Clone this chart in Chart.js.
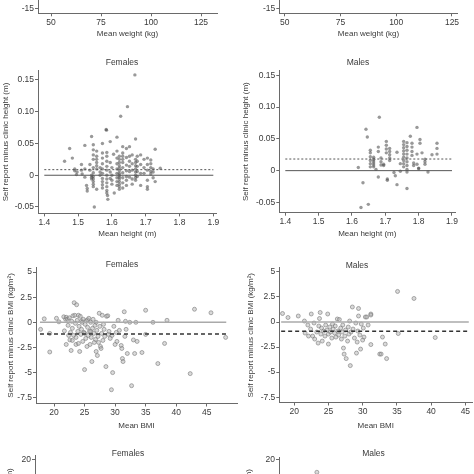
<!DOCTYPE html>
<html><head><meta charset="utf-8">
<script src="https://cdn.jsdelivr.net/npm/chart.js@4.4.1/dist/chart.umd.min.js"></script>
<style>
html,body{margin:0;padding:0;width:474px;height:474px;overflow:hidden;background:#fff}
canvas{position:absolute}
</style></head><body>
<canvas id="wF"></canvas><canvas id="wM"></canvas>
<canvas id="hF"></canvas><canvas id="hM"></canvas>
<canvas id="bF"></canvas><canvas id="bM"></canvas>
<canvas id="cF"></canvas><canvas id="cM"></canvas>
<script>
// ---------- tick labels ----------
const weightXTicks = [50, 75, 100, 125];
const weightYTicks = [-15, -10, -5, 0, 5, 10, 15, 20];
const heightXTicks = [1.4, 1.5, 1.6, 1.7, 1.8, 1.9];
const heightXLabels = ['1.4', '1.5', '1.6', '1.7', '1.8', '1.9'];
const heightYTicks = [-0.05, 0, 0.05, 0.10, 0.15];
const heightYLabels = ['-0.05', '0', '0.05', '0.10', '0.15'];
const bmiXTicks = [20, 25, 30, 35, 40, 45];
const bmiYTicks = [-7.5, -5, -2.5, 0, 2.5, 5];
const bmiYLabels = ['-7.5', '-5', '-2.5', '0', '2.5', '5'];
const waistXTicks = [60, 80, 100, 120, 140];
const waistYTicks = [-20, -10, 0, 10, 20];

// ---------- mean differences (dashed lines) and line extents ----------
const heightMeanDiffF = 0.0088, heightMeanDiffM = 0.0183;
const bmiMeanDiffF = -1.15, bmiMeanDiffM = -0.92;
const heightLineX = [1.4, 1.9];
const bmiLineXF = [17.7, 48.2];
const bmiLineXM = [18.1, 45.5];

// ---------- data: [mean, self report minus clinic] ----------
const heightFemales = [
[1.46,0.022],[1.475,0.042],[1.483,0.027],[1.49,0.010],[1.49,0.007],[1.495,0.001],[1.497,0.005],
[1.51,0.017],[1.51,0.008],[1.512,0.002],[1.52,0.047],[1.52,0.010],[1.52,-0.003],
[1.525,-0.016],[1.527,-0.021],[1.527,-0.025],[1.535,0.017],[1.535,0.008],
[1.54,0.061],[1.54,0.000],[1.54,-0.003],[1.54,-0.006],
[1.545,0.048],[1.545,0.040],[1.545,0.032],[1.545,0.025],[1.545,0.012],[1.545,0.004],[1.545,-0.002],[1.545,-0.006],[1.545,-0.010],[1.545,-0.014],[1.545,-0.018],
[1.548,-0.050],
[1.555,0.038],[1.555,0.030],[1.555,0.025],[1.555,0.020],[1.555,0.015],[1.555,0.010],[1.555,-0.022],
[1.565,0.012],[1.565,0.005],[1.565,0.000],
[1.572,0.050],[1.572,0.035],[1.572,0.027],[1.572,0.018],[1.572,0.010],[1.572,0.003],[1.572,-0.005],[1.572,-0.010],[1.572,-0.015],[1.572,-0.020],
[1.583,0.072],[1.584,0.071],
[1.585,0.036],[1.585,0.030],[1.585,0.022],[1.585,0.014],[1.585,0.008],[1.585,0.000],[1.585,-0.006],[1.585,-0.012],[1.585,-0.018],[1.585,-0.024],[1.585,-0.028],[1.587,-0.032],[1.588,-0.038],
[1.595,0.053],[1.595,0.020],[1.595,0.005],[1.595,-0.005],
[1.60,0.012],[1.60,0.000],[1.60,-0.008],[1.60,-0.014],
[1.605,0.033],[1.607,-0.028],
[1.615,0.060],[1.615,0.038],[1.615,0.027],[1.615,0.018],[1.615,0.010],[1.615,0.003],[1.615,-0.004],[1.615,-0.010],[1.615,-0.016],
[1.622,0.030],[1.622,0.025],[1.622,0.020],[1.622,0.015],[1.622,0.011],[1.622,0.007],[1.622,0.003],[1.622,0.000],[1.622,-0.003],[1.622,-0.006],[1.622,-0.010],[1.622,-0.014],[1.622,-0.018],[1.622,-0.022],
[1.626,0.093],
[1.632,0.045],[1.632,0.035],[1.632,0.030],[1.632,0.025],[1.632,0.020],[1.632,0.012],[1.632,0.004],[1.632,-0.004],[1.632,-0.012],[1.632,-0.020],
[1.646,0.108],
[1.643,0.042],[1.643,0.028],[1.643,0.016],[1.643,0.007],[1.643,-0.002],[1.643,-0.008],[1.643,-0.016],
[1.652,0.045],[1.652,0.030],[1.652,0.022],[1.652,0.014],[1.652,0.006],[1.652,-0.003],
[1.66,0.032],[1.66,0.018],[1.66,0.008],[1.66,-0.006],[1.66,-0.014],
[1.668,0.158],
[1.67,0.057],[1.67,0.025],[1.67,0.020],[1.67,0.015],[1.67,0.010],[1.67,0.005],[1.67,0.000],[1.67,-0.004],[1.67,-0.008],
[1.675,0.030],[1.675,0.022],[1.675,0.014],[1.675,0.006],[1.675,-0.002],
[1.685,0.032],[1.685,0.017],[1.685,0.003],[1.685,-0.016],
[1.695,0.025],[1.695,0.012],[1.695,0.003],
[1.705,0.027],[1.705,0.017],[1.705,0.008],[1.705,-0.008],[1.705,-0.018],[1.705,-0.022],
[1.715,0.024],[1.715,0.018],[1.715,0.012],[1.715,0.006],[1.715,0.002],
[1.722,0.010],[1.722,0.005],[1.722,-0.004],
[1.728,0.041],[1.728,-0.010],
[1.743,0.011]
];
const heightMales = [
[1.619,0.005],[1.627,-0.058],[1.633,-0.019],[1.642,0.065],[1.646,0.053],[1.649,-0.053],
[1.655,0.032],[1.655,0.028],[1.655,0.022],[1.655,0.016],[1.655,0.011],[1.655,0.006],
[1.665,0.021],[1.665,0.018],[1.665,0.015],[1.665,0.012],[1.665,0.009],[1.665,0.006],
[1.672,0.002],[1.679,0.037],[1.679,0.030],[1.679,-0.010],[1.682,0.084],
[1.687,0.020],[1.687,0.014],[1.687,0.009],[1.695,0.010],[1.695,0.008],
[1.703,0.046],[1.703,0.040],[1.703,0.034],[1.703,0.028],[1.706,-0.013],[1.706,-0.015],
[1.713,0.035],[1.713,0.030],[1.713,0.025],[1.713,0.020],[1.713,0.016],
[1.726,-0.003],[1.73,-0.008],[1.735,0.029],[1.735,-0.022],[1.745,0.011],[1.745,-0.001],
[1.755,0.046],[1.755,0.041],[1.755,0.036],[1.755,0.031],[1.755,0.026],[1.755,0.021],[1.755,0.016],[1.755,0.011],[1.755,0.006],
[1.765,0.044],[1.765,0.038],[1.765,0.032],[1.765,0.026],[1.765,0.020],[1.765,0.014],[1.765,0.008],[1.765,0.002],[1.765,-0.002],[1.765,-0.028],
[1.775,0.054],[1.78,0.043],[1.78,0.037],[1.78,0.030],[1.78,0.024],[1.785,0.012],[1.785,0.008],
[1.795,0.068],[1.795,0.026],[1.795,0.010],[1.80,0.004],[1.80,0.003],[1.804,0.049],[1.804,0.043],
[1.81,0.028],[1.819,0.018],[1.819,0.014],[1.819,0.010],[1.828,-0.002],[1.84,0.025],
[1.855,0.043],[1.855,0.035],[1.855,0.026]
];
const bmiFemales = [
[17.8,-0.7],[18.4,0.35],[19.3,-1.1],[19.3,-2.95],[20.4,0.4],[20.8,0.05],[21.6,0.55],[21.7,-0.85],[21.9,0.3],
[22.0,-2.2],[22.0,0.5],[22.2,0.3],[22.3,-0.3],[22.4,-1.3],[22.5,0.45],[22.6,-1.75],[22.7,-1.0],[22.8,-2.8],[22.9,0.1],
[23.0,-0.6],[23.0,-1.8],[23.1,0.65],[23.2,-1.3],[23.3,1.95],[23.4,0.7],[23.5,-0.1],[23.6,-1.5],[23.6,-2.2],[23.7,1.75],
[23.8,0.2],[23.9,-0.9],[24.0,-2.1],[24.0,0.7],[24.1,-0.4],[24.2,-2.9],[24.3,0.6],[24.4,-1.2],[24.5,-0.7],[24.5,0.15],
[24.6,0.0],[24.7,-1.9],[24.8,0.3],[24.9,-1.0],[25.0,-4.7],[25.0,-1.1],[25.1,-0.2],[25.2,-1.6],[25.3,0.15],[25.4,-2.4],
[25.5,-0.5],[25.5,0.25],[25.6,-1.3],[25.7,0.4],[25.8,-0.9],[25.9,-2.2],[26.0,0.0],[26.0,-0.9],[26.1,-1.5],[26.2,-3.9],
[26.3,-0.6],[26.4,0.3],[26.5,-1.1],[26.6,-2.0],[26.7,-0.3],[26.8,-1.7],[26.9,-2.9],[26.9,0.0],[27.0,-0.8],[27.1,-3.3],
[27.2,-1.4],[27.3,-2.0],[27.4,0.9],[27.5,-0.4],[27.6,-2.4],[27.7,-2.6],[27.8,-1.1],[27.9,0.7],[28.0,-1.8],[28.1,-0.2],
[28.2,-0.7],[28.3,-1.4],[28.5,-4.4],[28.6,0.6],[28.8,0.65],[28.9,-1.2],[29.0,-0.9],[29.2,-1.6],[29.4,-6.7],[29.5,-1.3],
[29.6,-5.0],[29.8,-0.4],[30.0,-2.2],[30.2,-1.0],[30.3,-1.9],[30.5,0.2],[30.7,-0.8],[31.0,-2.3],[31.1,-2.6],[31.2,-3.6],
[31.3,-3.9],[31.5,1.05],[31.6,-1.4],[31.7,0.1],[31.8,-0.7],[32.0,-3.1],[32.4,0.0],[32.7,-6.3],[33.0,-1.75],[33.2,-3.1],
[33.4,0.0],[33.6,-1.9],[34.4,-3.0],[35.0,1.2],[35.0,-1.2],[36.2,0.0],[37.0,-4.1],[38.1,-2.1],[38.5,0.2],[42.3,-5.1],
[43.0,1.3],[45.7,0.95],[48.1,-1.5]
];
const bmiMales = [
[18.3,0.85],[19.1,0.45],[20.6,0.6],[21.5,0.1],[21.6,-1.1],[22.0,-0.3],[22.1,-1.4],[22.4,-0.7],[22.5,0.8],[22.7,-1.4],
[22.9,-0.1],[23.0,-1.7],[23.3,-1.0],[23.5,-2.1],[23.6,-0.4],[23.7,0.35],[23.8,0.95],[23.9,-1.2],[24.0,-0.6],[24.1,-1.9],
[24.3,-0.9],[24.5,-1.4],[24.6,-0.3],[24.8,-0.8],[24.9,0.8],[25.0,-2.2],[25.0,-1.2],[25.2,-0.5],[25.3,-1.0],[25.5,-1.6],
[25.6,-0.2],[25.7,-0.7],[25.9,-1.1],[26.0,-0.4],[26.1,-1.5],[26.3,0.3],[26.4,-0.9],[26.5,-1.3],[26.6,0.25],[26.8,-0.6],
[26.9,-1.7],[27.0,-1.0],[27.1,-0.3],[27.2,-2.6],[27.3,-3.2],[27.4,-1.4],[27.5,-0.8],[27.6,-3.65],[27.8,-1.9],[27.9,-0.5],
[28.0,-1.2],[28.1,0.1],[28.2,-4.35],[28.3,-1.0],[28.5,1.5],[28.6,-0.7],[28.8,-1.6],[29.0,-0.1],[29.1,-3.1],[29.2,-2.0],
[29.3,-0.9],[29.4,1.35],[29.4,0.6],[29.6,-1.3],[29.7,-2.7],[29.8,-0.2],[30.0,-1.8],[30.1,-0.6],[30.2,-1.5],[30.4,0.5],
[30.6,0.5],[30.8,-0.3],[31.2,0.8],[31.2,0.7],[31.2,-2.25],[32.5,-3.2],[32.7,-3.2],[32.9,-1.5],[33.3,-2.2],[33.5,-3.65],
[35.1,3.05],[35.2,-1.15],[37.5,2.35],[40.6,-1.55]
];
const waistFemales = [];
const waistMales = [[74.2,16.2]];

// ---------- styling ----------
const FONT = "'Liberation Sans', Arial, Helvetica, sans-serif";
const TXT = '#3a3a3a', AX = '#6a6a6a';

function pts(a){ return a.map(p => ({x:p[0], y:p[1]})); }
function hline(xr, v, color, w, dash){
  return {data:[{x:xr[0],y:v},{x:xr[1],y:v}], showLine:true, pointRadius:0, borderColor:color, borderWidth:w, borderDash:dash, fill:false};
}
function heightPts(a){ return {data:pts(a), pointRadius:1.7, pointBackgroundColor:'rgba(70,70,70,0.55)', pointBorderWidth:0}; }
function bmiPts(a){ return {data:pts(a), pointRadius:2, pointBackgroundColor:'rgba(170,170,170,0.45)', pointBorderColor:'rgba(120,120,120,0.75)', pointBorderWidth:0.8}; }

function panel(id, g, xs, ys, datasets){
  const cv = document.getElementById(id);
  cv.width = g.cw; cv.height = g.ch;
  cv.style.left = g.cl + 'px'; cv.style.top = g.ct + 'px';
  const tf = {family:FONT, size:g.ts || 8.5};
  const hf = {family:FONT, size:8};
  const axisGrid = {display:true, drawOnChartArea:false, drawTicks:true, tickLength:3, color:AX, lineWidth:1};
  new Chart(cv, {
    type:'scatter',
    data:{datasets},
    options:{
      responsive:false, animation:false, events:[],
      layout:{padding:0},
      plugins:{legend:{display:false}, tooltip:{enabled:false},
        title: g.title ? {display:true, text:g.title, color:TXT, font:{family:FONT,size:8.5,weight:'normal'}, padding:{top:g.tpt, bottom:g.tpb}} : {display:false}},
      scales:{
        x:{type:'linear', position:'bottom', min:xs.min, max:xs.max,
          afterBuildTicks:s => { s.ticks = xs.ticks.map(v => ({value:v})); },
          afterFit:s => { s.height = g.xh; },
          grid:axisGrid, border:{display:true, color:AX, width:1},
          ticks:{color:TXT, font:tf, padding:1, maxRotation:0, autoSkip:false,
            callback:(v,i) => xs.labels ? xs.labels[i] : String(xs.ticks[i])},
          title:{display:true, text:xs.title, color:TXT, font:hf, padding:0}},
        y:{type:'linear', position:'left', min:ys.min, max:ys.max,
          afterBuildTicks:s => { s.ticks = ys.ticks.map(v => ({value:v})); },
          afterFit:s => { s.width = g.yw; },
          grid:axisGrid, border:{display:true, color:AX, width:1},
          ticks:{color:TXT, font:tf, padding:1, autoSkip:false,
            callback:(v,i) => ys.labels ? ys.labels[i] : String(ys.ticks[i])},
          title:{display:true, text:ys.title, color:TXT, font:hf, padding:{top:g.ytp, bottom:0}}},
        yr:{axis:'y', type:'linear', position:'right', display:true,
          grid:{display:false}, border:{display:false}, ticks:{display:false},
          afterFit:s => { s.width = g.rw; }}
      }
    }
  });
}

// ---------- weight (bottom edge only) ----------
panel('wF', {cl:0, ct:-146, cw:237, ch:185, yw:38, rw:20, xh:25.7, ytp:0},
  {min:43.5, max:133, ticks:weightXTicks, title:'Mean weight (kg)'},
  {min:-16.5, max:28.59, ticks:weightYTicks, title:'Self report minus clinic weight (kg)'}, []);
panel('wM', {cl:237, ct:-146, cw:237, ch:185, yw:42.3, rw:16.3, xh:25.7, ytp:4.2},
  {min:47.58, max:127.56, ticks:weightXTicks, title:'Mean weight (kg)'},
  {min:-16.5, max:28.59, ticks:weightYTicks, title:'Self report minus clinic weight (kg)'}, []);

// ---------- height ----------
panel('hF', {cl:0, ct:50, cw:244, ch:189.3, yw:38, rw:27.3, xh:25.6, ytp:1.2, title:'Females', tpt:7.2, tpb:3.2},
  {min:1.3814, max:1.910, ticks:heightXTicks, labels:heightXLabels, title:'Mean height (m)'},
  {min:-0.0601, max:0.1648, ticks:heightYTicks, labels:heightYLabels, title:'Self report minus clinic height (m)'},
  [hline(heightLineX, 0, '#555', 1, []), hline(heightLineX, heightMeanDiffF, '#555', 1, [2,2]), heightPts(heightFemales)]);
panel('hM', {cl:237, ct:50, cw:242, ch:189.3, yw:42.3, rw:23.7, xh:26.3, ytp:4.2, title:'Males', tpt:7.2, tpb:3.2},
  {min:1.382, max:1.9099, ticks:heightXTicks, labels:heightXLabels, title:'Mean height (m)'},
  {min:-0.0661, max:0.1573, ticks:heightYTicks, labels:heightYLabels, title:'Self report minus clinic height (m)'},
  [hline(heightLineX, 0, '#555', 1, []), hline(heightLineX, heightMeanDiffM, '#555', 1, [2,2]), heightPts(heightMales)]);

// ---------- BMI ----------
panel('bF', {cl:0, ct:250, cw:244, ch:181.8, yw:36, rw:7, xh:27.5, ytp:6.2, title:'Females', tpt:9.5, tpb:-2.4},
  {min:17.05, max:49.96, ticks:bmiXTicks, title:'Mean BMI'},
  {min:-8.07, max:5.47, ticks:bmiYTicks, labels:bmiYLabels, title:'Self report minus clinic BMI (kg/m²)'},
  [hline(bmiLineXF, bmiMeanDiffF, '#333', 1.5, [4,3]), hline(bmiLineXF, 0, '#aaa', 1.5, []), bmiPts(bmiFemales)]);
panel('bM', {cl:237, ct:250, cw:240, ch:181.8, yw:42.3, rw:3, xh:28.5, ytp:9.2, title:'Males', tpt:10.2, tpb:-2.5},
  {min:17.83, max:46.0, ticks:bmiXTicks, title:'Mean BMI'},
  {min:-8.03, max:5.4, ticks:bmiYTicks, labels:bmiYLabels, title:'Self report minus clinic BMI (kg/m²)'},
  [hline(bmiLineXM, bmiMeanDiffM, '#333', 1.5, [4,3]), hline(bmiLineXM, 0, '#aaa', 1.5, []), bmiPts(bmiMales)]);

// ---------- waist (top edge only) ----------
panel('cF', {cl:0, ct:440, cw:256, ch:190, yw:35, rw:39, xh:30, ytp:5.2, title:'Females', tpt:8.2, tpb:-2.8},
  {min:55, max:145, ticks:waistXTicks, title:'Mean waist (cm)'},
  {min:-22, max:21.19, ticks:waistYTicks, title:'Self report minus clinic waist (cm)'},
  [bmiPts(waistFemales)]);
panel('cM', {cl:237, ct:440, cw:273.4, ch:190, yw:42, rw:53.4, xh:30, ytp:6.7, title:'Males', tpt:8.2, tpb:-1.1},
  {min:55, max:145, ticks:waistXTicks, title:'Mean waist (cm)'},
  {min:-22, max:20.68, ticks:waistYTicks, title:'Self report minus clinic waist (cm)'},
  [bmiPts(waistMales)]);
</script>
</body></html>
